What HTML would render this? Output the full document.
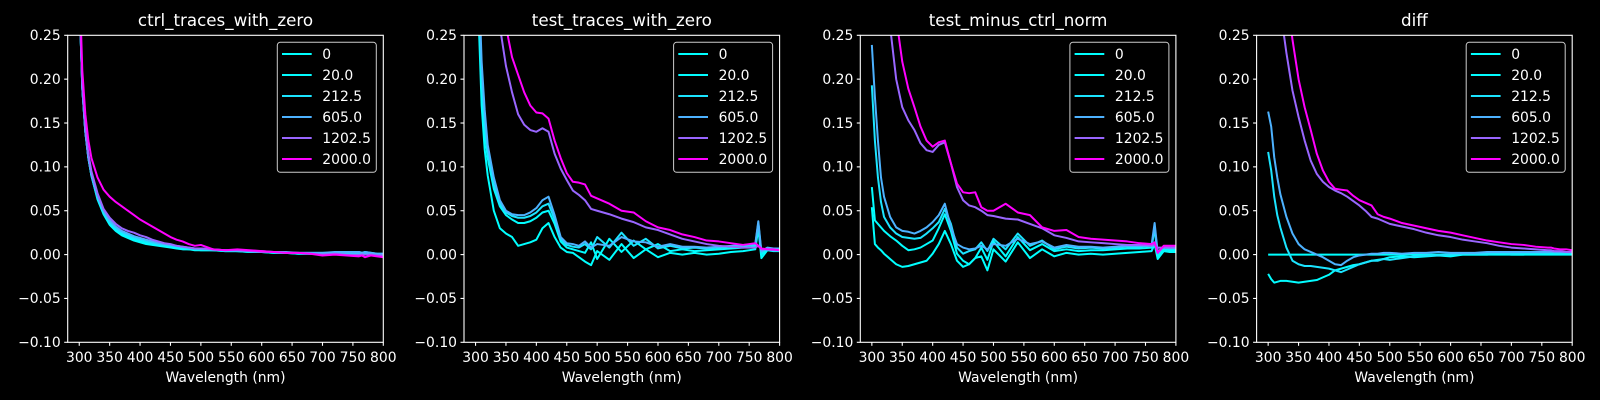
<!DOCTYPE html>
<html><head><meta charset="utf-8"><style>
html,body{margin:0;padding:0;background:#000;}
svg{display:block;font-family:"DejaVu Sans","Liberation Sans",sans-serif;}
</style></head><body>
<svg id="fig" width="1600" height="400" viewBox="0 0 1600 400" xmlns="http://www.w3.org/2000/svg">
<rect width="1600" height="400" fill="#000"/>
</svg>
<script>
const wavelengths=[300,305,310,315,320,330,340,350,360,370,380,390,400,410,420,430,440,450,460,470,480,490,500,520,540,560,580,600,620,640,660,680,700,720,740,760,765,770,780,790,800];
const seriesLabels=["0","20.0","212.5","605.0","1202.5","2000.0"];
const seriesColors=["#00ffff","#03fcff","#1be4ff","#4db2ff","#9966ff","#ff00ff"];
const panelTitles=["ctrl_traces_with_zero","test_traces_with_zero","test_minus_ctrl_norm","diff"];
const yTicks=[0.25,0.20,0.15,0.10,0.05,0.00,-0.05,-0.10];
const yTickLabels=["0.25","0.20","0.15","0.10","0.05","0.00","\u22120.05","\u22120.10"];
const xTicks=[300,350,400,450,500,550,600,650,700,750,800];

const p1s0=[0.30,0.19,0.14,0.11,0.09,0.063,0.046,0.034,0.027,0.022,0.019,0.016,0.014,0.012,0.011,0.010,0.009,0.008,0.007,0.006,0.006,0.005,0.005,0.005,0.004,0.004,0.003,0.003,0.002,0.002,0.001,0.001,0.001,0.002,0.002,0.002,0.001,0.002,0.001,0.000,0.000];
const p1s1=[0.30,0.19,0.14,0.11,0.09,0.064,0.047,0.035,0.028,0.023,0.020,0.017,0.015,0.013,0.012,0.011,0.010,0.009,0.008,0.007,0.006,0.006,0.005,0.005,0.004,0.004,0.003,0.003,0.002,0.002,0.001,0.001,0.001,0.002,0.002,0.002,0.001,0.002,0.001,0.000,0.000];
const p1s2=[0.30,0.19,0.14,0.11,0.09,0.065,0.048,0.037,0.030,0.025,0.022,0.019,0.017,0.015,0.013,0.012,0.011,0.010,0.009,0.008,0.007,0.006,0.006,0.005,0.005,0.004,0.004,0.003,0.003,0.002,0.002,0.002,0.002,0.002,0.003,0.003,0.002,0.003,0.002,0.001,0.001];
const p1s3=[0.30,0.19,0.14,0.11,0.091,0.067,0.050,0.039,0.032,0.027,0.024,0.021,0.019,0.017,0.015,0.013,0.012,0.011,0.010,0.009,0.008,0.007,0.007,0.006,0.005,0.005,0.004,0.004,0.003,0.003,0.002,0.002,0.002,0.003,0.003,0.003,0.002,0.003,0.002,0.001,0.001];
const p1s4=[0.30,0.195,0.145,0.115,0.095,0.07,0.052,0.042,0.035,0.030,0.027,0.025,0.022,0.020,0.017,0.015,0.013,0.012,0.010,0.009,0.008,0.007,0.007,0.006,0.005,0.005,0.004,0.003,0.003,0.002,0.002,0.001,0.000,0.001,0.000,0.000,0.000,0.000,0.000,-0.001,-0.001];
const p1s5=[0.32,0.21,0.16,0.13,0.11,0.088,0.074,0.066,0.060,0.055,0.050,0.045,0.040,0.036,0.032,0.028,0.024,0.020,0.017,0.015,0.012,0.010,0.011,0.006,0.005,0.006,0.005,0.004,0.003,0.002,0.002,0.001,-0.001,0.000,-0.001,-0.002,-0.001,-0.003,-0.001,-0.002,-0.003];

const p2s0=[0.40,0.27,0.17,0.12,0.09,0.05,0.03,0.024,0.02,0.01,0.012,0.014,0.017,0.03,0.036,0.02,0.008,0.003,0.002,-0.003,-0.008,-0.012,0.004,-0.006,0.012,-0.004,0.006,-0.003,0.002,0.000,0.002,0.000,0.001,0.003,0.004,0.006,0.030,-0.004,0.005,0.004,0.004];
const p2s1=[0.42,0.29,0.19,0.14,0.11,0.075,0.055,0.045,0.04,0.036,0.036,0.038,0.042,0.048,0.05,0.035,0.015,0.008,0.006,0.004,0.002,0.014,-0.005,0.018,0.003,0.016,0.006,0.012,0.004,0.006,0.004,0.005,0.006,0.007,0.008,0.009,0.035,0.000,0.006,0.005,0.005];
const p2s2=[0.43,0.30,0.20,0.15,0.115,0.08,0.058,0.048,0.044,0.042,0.042,0.044,0.048,0.055,0.058,0.04,0.018,0.011,0.009,0.008,0.012,0.006,0.02,0.008,0.025,0.01,0.018,0.007,0.01,0.007,0.008,0.007,0.008,0.009,0.010,0.011,0.036,0.002,0.007,0.006,0.006];
const p2s3=[0.45,0.32,0.22,0.165,0.125,0.088,0.062,0.05,0.046,0.045,0.045,0.048,0.053,0.062,0.066,0.045,0.02,0.013,0.012,0.01,0.015,0.008,0.012,0.01,0.02,0.015,0.014,0.009,0.012,0.009,0.009,0.008,0.009,0.010,0.011,0.012,0.038,0.004,0.008,0.007,0.007];
const p2s4=[0.9,0.7,0.56,0.46,0.39,0.31,0.26,0.215,0.185,0.16,0.148,0.142,0.14,0.144,0.14,0.115,0.098,0.085,0.073,0.068,0.062,0.052,0.05,0.046,0.041,0.037,0.031,0.028,0.023,0.018,0.015,0.012,0.01,0.009,0.008,0.008,0.01,0.006,0.006,0.005,0.005];
const p2s5=[1.0,0.8,0.66,0.55,0.47,0.37,0.3,0.26,0.225,0.205,0.185,0.17,0.162,0.161,0.155,0.13,0.11,0.093,0.083,0.082,0.08,0.067,0.064,0.058,0.05,0.048,0.038,0.031,0.028,0.023,0.02,0.016,0.015,0.013,0.011,0.013,0.01,0.007,0.006,0.006,0.005];

const p3s0=[0.054,0.012,0.008,0.005,0.001,-0.005,-0.011,-0.014,-0.013,-0.011,-0.009,-0.007,0.001,0.012,0.027,0.012,-0.007,-0.014,-0.011,-0.004,-0.002,-0.018,0.006,-0.008,0.014,-0.004,0.006,-0.002,0.002,0.000,0.001,0.000,0.001,0.002,0.003,0.004,0.012,-0.005,0.004,0.003,0.003];
const p3s1=[0.077,0.039,0.035,0.031,0.027,0.021,0.016,0.01,0.005,0.006,0.008,0.012,0.016,0.03,0.046,0.027,0.001,-0.007,-0.011,-0.004,0.008,-0.006,0.015,-0.002,0.02,0.005,0.012,0.004,0.006,0.004,0.005,0.005,0.006,0.007,0.007,0.008,0.03,-0.002,0.006,0.005,0.005];
const p3s2=[0.193,0.13,0.088,0.06,0.043,0.031,0.024,0.02,0.019,0.018,0.019,0.024,0.03,0.037,0.052,0.035,0.008,0.001,0.004,0.006,0.014,0.004,0.018,0.006,0.024,0.01,0.016,0.006,0.009,0.007,0.008,0.007,0.008,0.009,0.009,0.010,0.032,0.001,0.008,0.007,0.007];
const p3s3=[0.239,0.18,0.13,0.088,0.066,0.043,0.031,0.027,0.026,0.024,0.027,0.031,0.037,0.045,0.058,0.031,0.012,0.008,0.006,0.007,0.01,0.006,0.012,0.01,0.018,0.012,0.015,0.008,0.011,0.009,0.009,0.008,0.009,0.010,0.010,0.011,0.036,0.003,0.009,0.008,0.008];
const p3s4=[0.6,0.5,0.43,0.37,0.32,0.26,0.2,0.168,0.153,0.142,0.127,0.119,0.117,0.125,0.128,0.104,0.077,0.062,0.056,0.054,0.05,0.045,0.044,0.041,0.04,0.035,0.03,0.022,0.019,0.015,0.014,0.013,0.012,0.011,0.011,0.01,0.011,0.008,0.008,0.008,0.008];
const p3s5=[0.8,0.65,0.55,0.47,0.41,0.33,0.27,0.22,0.189,0.168,0.146,0.13,0.123,0.128,0.13,0.104,0.081,0.071,0.07,0.071,0.054,0.05,0.05,0.058,0.048,0.045,0.031,0.027,0.028,0.02,0.018,0.017,0.016,0.015,0.013,0.012,0.014,0.002,0.01,0.01,0.01];

const p4s0=[0,0,0,0,0,0,0,0,0,0,0,0,0,0,0,0,0,0,0,0,0,0,0,0,0,0,0,0,0,0,0,0,0,0,0,0,0,0,0,0,0];
const p4s1=[-0.022,-0.028,-0.032,-0.031,-0.03,-0.03,-0.031,-0.032,-0.031,-0.03,-0.029,-0.026,-0.023,-0.018,-0.016,-0.014,-0.012,-0.011,-0.009,-0.007,-0.006,-0.005,-0.003,-0.002,-0.003,-0.002,-0.001,-0.002,0.000,0.000,0.000,0.001,0.000,0.000,0.001,0.001,0.002,0.001,0.001,0.001,0.001];
const p4s2=[0.117,0.096,0.066,0.045,0.031,0.008,-0.007,-0.011,-0.013,-0.013,-0.014,-0.015,-0.016,-0.018,-0.02,-0.017,-0.014,-0.011,-0.009,-0.007,-0.007,-0.005,-0.006,-0.004,-0.002,-0.001,-0.001,0.000,0.001,0.001,0.001,0.002,0.001,0.002,0.002,0.002,0.003,0.002,0.002,0.002,0.002];
const p4s3=[0.163,0.146,0.111,0.088,0.069,0.043,0.024,0.012,0.006,0.003,0.000,-0.003,-0.007,-0.011,-0.012,-0.007,-0.003,-0.001,0.000,0.001,0.001,0.002,0.002,0.001,0.002,0.002,0.003,0.002,0.002,0.002,0.003,0.003,0.003,0.003,0.003,0.003,0.003,0.003,0.003,0.003,0.003];
const p4s4=[0.55,0.45,0.38,0.32,0.28,0.23,0.187,0.157,0.13,0.107,0.092,0.083,0.077,0.073,0.07,0.066,0.061,0.056,0.05,0.043,0.041,0.038,0.035,0.032,0.029,0.025,0.022,0.02,0.017,0.015,0.013,0.01,0.008,0.007,0.006,0.005,0.005,0.004,0.004,0.003,0.003];
const p4s5=[0.7,0.58,0.49,0.42,0.36,0.3,0.245,0.2,0.168,0.142,0.115,0.096,0.083,0.075,0.074,0.073,0.067,0.062,0.059,0.056,0.046,0.043,0.041,0.036,0.033,0.03,0.027,0.025,0.022,0.019,0.016,0.014,0.012,0.011,0.009,0.008,0.008,0.007,0.006,0.006,0.005];

const panels=[[p1s0,p1s1,p1s2,p1s3,p1s4,p1s5],[p2s0,p2s1,p2s2,p2s3,p2s4,p2s5],[p3s0,p3s1,p3s2,p3s3,p3s4,p3s5],[p4s0,p4s1,p4s2,p4s3,p4s4,p4s5]];

const NS="http://www.w3.org/2000/svg";
const svg=document.getElementById('fig');
const X0=281,X1=800,Y0=-0.10,Y1=0.25;
const AX_TOP=35.3,AX_H=307,AX_W=315.6;
function mk(tag,attrs,parent){const e=document.createElementNS(NS,tag);for(const k in attrs)e.setAttribute(k,attrs[k]);(parent||svg).appendChild(e);return e;}

panels.forEach((series,pi)=>{
  const L=67.7+396.3*pi;
  const xs=v=>L+(v-X0)/(X1-X0)*AX_W;
  const ys=v=>AX_TOP+(Y1-v)/(Y1-Y0)*AX_H;
  const g=mk('g',{});
  
  
  const cp=mk('clipPath',{id:'clip'+pi},g);
  mk('rect',{x:L,y:AX_TOP,width:AX_W,height:AX_H},cp);
  // title
  const t=mk('text',{x:L+AX_W/2,y:26,'text-anchor':'middle',fill:'#fff','font-size':'16.7'},g);
  t.textContent=panelTitles[pi];
  
  
  // series
  const lg=mk('g',{'clip-path':'url(#clip'+pi+')'},g);
  series.forEach((vals,si)=>{
    const d=vals.map((v,i)=>(i?'L':'M')+xs(wavelengths[i]).toFixed(2)+','+ys(v).toFixed(2)).join('');
    const p=mk('path',{d:d,fill:'none',stroke:seriesColors[si],'stroke-width':'2','stroke-linejoin':'round'},lg);
    
    
  });
  // spines
  const sp=mk('rect',{x:L,y:AX_TOP,width:AX_W,height:AX_H,fill:'none',stroke:'#fff','stroke-width':'1.1'},g);
  
  
  // y ticks
  yTicks.forEach((v,i)=>{
    const y=ys(v);
    mk('line',{x1:L-3.5,x2:L,y1:y,y2:y,stroke:'#fff','stroke-width':'1.1'},g);
    const tl=mk('text',{x:L-7,y:y+4.8,'text-anchor':'end',fill:'#fff','font-size':'13.9'},g);
    tl.textContent=yTickLabels[i];
    
    
  });
  // x ticks
  const B=AX_TOP+AX_H;
  xTicks.forEach(v=>{
    const x=xs(v);
    mk('line',{x1:x,x2:x,y1:B,y2:B+3.5,stroke:'#fff','stroke-width':'1.1'},g);
    const tl=mk('text',{x:x,y:B+19.5,'text-anchor':'middle',fill:'#fff','font-size':'13.9'},g);
    tl.textContent=String(v);
    
    
  });
  const xl=mk('text',{x:L+AX_W/2,y:382,'text-anchor':'middle',fill:'#fff','font-size':'13.9'},g);
  xl.textContent='Wavelength (nm)';
  
  
  // legend
  const bx=L+AX_W-106,by=42.3;
  const leg=mk('g',{},g);
  
  
  mk('rect',{x:bx,y:by,width:99,height:130,rx:3,fill:'#000','fill-opacity':'0.8',stroke:'#cccccc','stroke-width':'1'},leg);
  seriesLabels.forEach((lab,si)=>{
    const yy=54+21*si;
    const e=mk('g',{},leg);
    
    
    mk('line',{x1:bx+4.7,x2:bx+34.4,y1:yy,y2:yy,stroke:seriesColors[si],'stroke-width':'2'},e);
    const tx=mk('text',{x:bx+45,y:yy+4.8,fill:'#fff','font-size':'13.9'},e);
    tx.textContent=lab;
  });
});
</script>
</body></html>
